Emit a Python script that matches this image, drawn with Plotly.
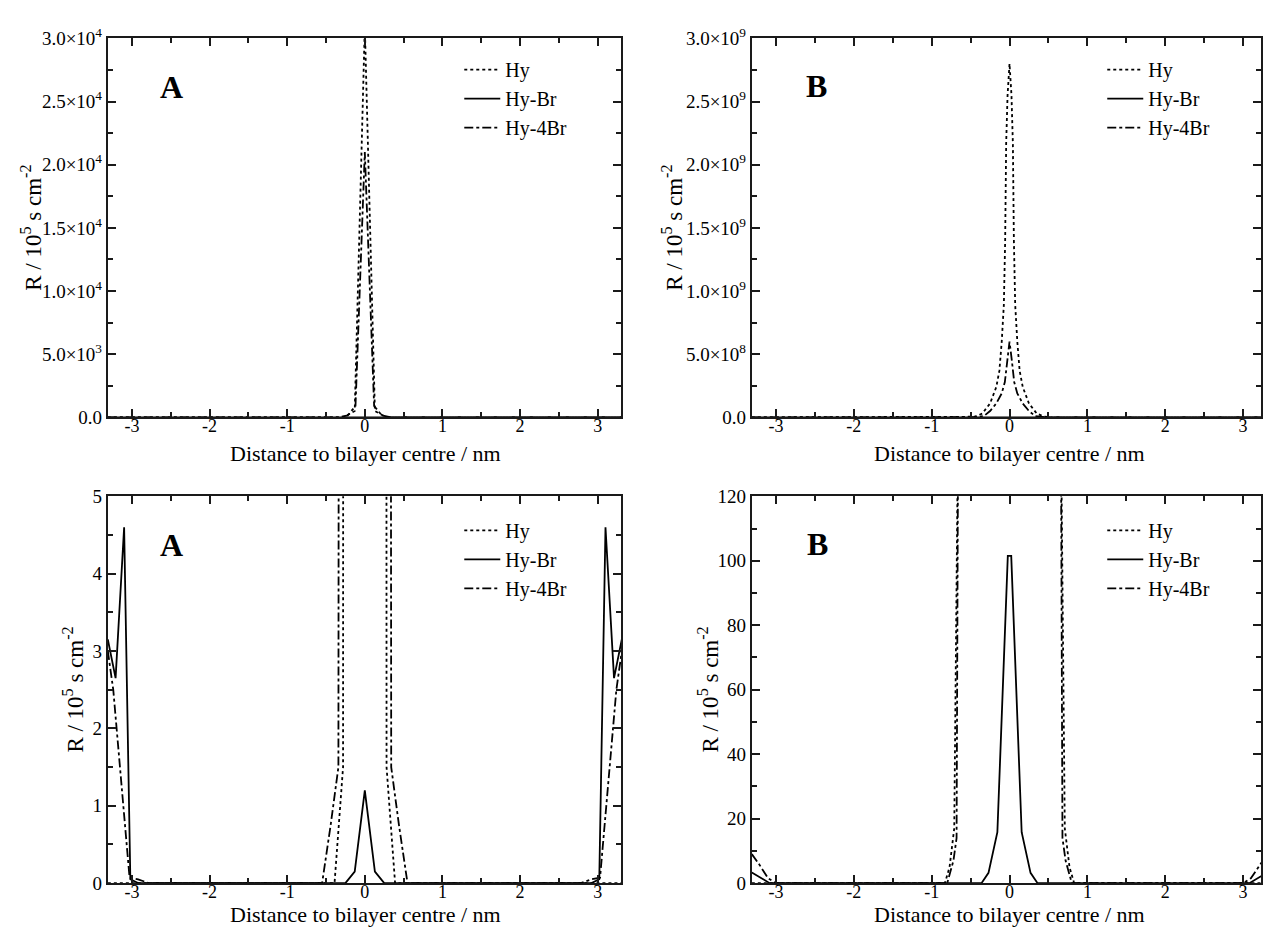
import plotly.graph_objects as go

FONT = "Liberation Serif"
W, H = 1263, 938
INK = "#1a1a1a"

series_names = ["Hy", "Hy-Br", "Hy-4Br"]

# ---- Data set A (R / 10^5 s cm^-2 against distance to bilayer centre / nm)
a_hy_x = [-3.31, -0.39, -0.28, -0.13, 0.0, 0.13, 0.28, 0.39, 3.31]
a_hy_y = [0, 0, 1.5, 500, 31000, 500, 1.5, 0, 0]

a_br_x = [-3.31, -3.21, -3.1, -3.02, -2.92, -0.25, -0.13, 0.0, 0.13, 0.25,
          2.92, 3.02, 3.1, 3.21, 3.31]
a_br_y = [3.15, 2.65, 4.6, 0.05, 0, 0, 0.15, 1.2, 0.15, 0,
          0, 0.05, 4.6, 2.65, 3.15]

a_4br_x = [-3.31, -3.24, -3.03, -2.92, -2.78, -0.55, -0.44, -0.34, -0.22, -0.12, 0.0,
           0.12, 0.22, 0.34, 0.44, 0.55, 2.78, 2.92, 3.03, 3.24, 3.31]
a_4br_y = [3.0, 2.5, 0.07, 0.05, 0, 0, 0.75, 1.5, 150, 900, 21000,
           900, 150, 1.5, 0.75, 0, 0, 0.05, 0.07, 2.5, 3.0]

# ---- Data set B
b_hy_x = [-3.31, -0.83, -0.77, -0.71, -0.63, -0.55, -0.45, -0.35, -0.25, -0.17, -0.13,
          -0.1, -0.073, -0.056, -0.043, -0.025, 0.0,
          0.025, 0.043, 0.056, 0.073, 0.1, 0.13, 0.17, 0.25, 0.35, 0.45, 0.55, 0.63,
          0.71, 0.77, 0.83, 3.31]
b_hy_y = [0, 0, 5, 17, 220, 8e3, 5e6, 3e7, 1.1e8, 2.4e8, 3.7e8,
          6.0e8, 8.9e8, 1.4e9, 2.17e9, 2.55e9, 2.8e9,
          2.55e9, 2.17e9, 1.4e9, 8.9e8, 6.0e8, 3.7e8, 2.4e8, 1.1e8, 3e7, 5e6, 8e3, 220,
          17, 5, 0, 0]

b_br_x = [-3.31, -3.08, -0.36, -0.27, -0.156, -0.022, 0.022, 0.156, 0.27, 0.36, 3.08, 3.31]
b_br_y = [3.3, 0, 0, 3.2, 15.8, 101.5, 101.5, 15.8, 3.2, 0, 0, 3.3]

b_4br_x = [-3.31, -3.22, -3.1, -3.0, -0.8, -0.72, -0.68, -0.62, -0.55, -0.45, -0.33,
           -0.25, -0.17, -0.1, -0.06, -0.03, 0.0,
           0.03, 0.06, 0.1, 0.17, 0.25, 0.33, 0.45, 0.55, 0.62, 0.68, 0.72, 0.8,
           3.0, 3.1, 3.22, 3.31]
b_4br_y = [9, 6, 1.5, 0, 0, 7, 14, 400, 2e4, 1e6, 1e7,
           5e7, 1.1e8, 1.9e8, 2.8e8, 4.5e8, 6.0e8,
           4.5e8, 2.8e8, 1.9e8, 1.1e8, 5e7, 1e7, 1e6, 2e4, 400, 14, 7, 0,
           0, 1.5, 6, 9]

# ---- Axis ticks
x_ticks = [-3, -2, -1, 0, 1, 2, 3]
x_ticktext = ["-3", "-2", "-1", "0", "1", "2", "3"]

ya_top_ticks = [0, 5000, 10000, 15000, 20000, 25000, 30000]
ya_top_text = ["0.0", "5.0×10<sup>3</sup>", "1.0×10<sup>4</sup>", "1.5×10<sup>4</sup>",
               "2.0×10<sup>4</sup>", "2.5×10<sup>4</sup>", "3.0×10<sup>4</sup>"]
yb_top_ticks = [0, 5e8, 1e9, 1.5e9, 2e9, 2.5e9, 3e9]
yb_top_text = ["0.0", "5.0×10<sup>8</sup>", "1.0×10<sup>9</sup>", "1.5×10<sup>9</sup>",
               "2.0×10<sup>9</sup>", "2.5×10<sup>9</sup>", "3.0×10<sup>9</sup>"]
ya_bot_ticks = [0, 1, 2, 3, 4, 5]
yb_bot_ticks = [0, 20, 40, 60, 80, 100, 120]

panel_letters = ["A", "B", "A", "B"]
x_title = "Distance to bilayer centre / nm"
y_title = "R / 10<sup>5</sup> s cm<sup>-2</sup>"

dashes = {"Hy": "dot", "Hy-Br": "solid", "Hy-4Br": "dashdot"}

data_A = {"Hy": (a_hy_x, a_hy_y), "Hy-Br": (a_br_x, a_br_y), "Hy-4Br": (a_4br_x, a_4br_y)}
data_B = {"Hy": (b_hy_x, b_hy_y), "Hy-Br": (b_br_x, b_br_y), "Hy-4Br": (b_4br_x, b_4br_y)}

# pixel geometry -> paper fractions (margins are zero)
def px(x):
    return x / W

def py(y):
    return 1 - y / H

x_dom_left = [px(108), px(622)]
x_dom_right = [px(753), 1.0]
y_dom_top = [py(415), py(26)]
y_dom_bot = [py(893), py(496)]

panels = [
    ("", data_A, x_dom_left, y_dom_top, [-3.31, 3.30], [0, 30000], ya_top_ticks, ya_top_text, 2500, "legend"),
    ("2", data_B, x_dom_right, y_dom_top, [-3.31, 3.23], [0, 3e9], yb_top_ticks, yb_top_text, 2.5e8, "legend2"),
    ("3", data_A, x_dom_left, y_dom_bot, [-3.31, 3.30], [0, 5], ya_bot_ticks, [str(v) for v in ya_bot_ticks], 0.5, "legend3"),
    ("4", data_B, x_dom_right, y_dom_bot, [-3.31, 3.23], [0, 120], yb_bot_ticks, [str(v) for v in yb_bot_ticks], 10, "legend4"),
]

fig = go.Figure()
layout = dict(
    width=W, height=H,
    margin=dict(l=0, r=0, t=0, b=0),
    paper_bgcolor="white", plot_bgcolor="white",
    font=dict(family=FONT, size=20, color="black"),
    annotations=[],
)

axis_common = dict(
    showline=True, linecolor=INK, linewidth=2, mirror="ticks",
    ticks="inside", ticklen=8, tickwidth=2, tickcolor=INK,
    showgrid=False, zeroline=False,
)

legend_pos = {"legend": (460, 38), "legend2": (1104, 38), "legend3": (460, 511), "legend4": (1104, 511)}
letter_pos = [(172, 76), (818, 75), (172, 546), (819, 545)]
ytitle_x = [32, 674, 74, 710]
xtitle_y = [452, 452, 925, 925]
x_zero_px = [365.6, 1011, 365.6, 1011]

for i, (suf, data, xdom, ydom, xr, yr, ytv, ytt, yminor, leg) in enumerate(panels):
    xa = "x" + suf
    ya = "y" + suf
    for name in series_names:
        xs, ys = data[name]
        fig.add_trace(go.Scatter(
            x=xs, y=ys, mode="lines", name=name,
            line=dict(color="black", width=1.8, dash=dashes[name]),
            xaxis=xa, yaxis=ya, legend=leg, showlegend=True,
        ))
    layout["xaxis" + suf] = dict(
        axis_common, domain=xdom, range=xr, anchor=ya,
        tickvals=x_ticks, ticktext=x_ticktext, ticklabelstandoff=-9,
        tickfont=dict(family=FONT, size=18, color="black"),
        minor=dict(ticks="inside", ticklen=5, tickwidth=1.5, tickcolor=INK, dtick=0.5, tick0=0),
    )
    layout["yaxis" + suf] = dict(
        axis_common, domain=ydom, range=yr, anchor=xa,
        tickvals=ytv, ticktext=ytt,
        tickfont=dict(family=FONT, size=19, color="black"),
        minor=dict(ticks="inside", ticklen=5, tickwidth=1.5, tickcolor=INK, dtick=yminor, tick0=0),
    )
    lx, ly = legend_pos[leg]
    layout[leg] = dict(
        x=px(lx), y=py(ly), xanchor="left", yanchor="top",
        xref="paper", yref="paper",
        bgcolor="rgba(0,0,0,0)", borderwidth=0,
        font=dict(family=FONT, size=20, color="black"),
        itemwidth=36, tracegroupgap=0,
    )
    lx_, ly_ = letter_pos[i]
    layout["annotations"].append(dict(
        text="<b>%s</b>" % panel_letters[i], x=px(lx_), y=py(ly_), xref="paper", yref="paper",
        xanchor="center", yanchor="middle", showarrow=False,
        font=dict(family=FONT, size=32, color="black"),
    ))
    layout["annotations"].append(dict(
        text=x_title, x=px(x_zero_px[i]), y=py(xtitle_y[i]), xref="paper", yref="paper",
        xanchor="center", yanchor="middle", showarrow=False,
        font=dict(family=FONT, size=22, color="black"),
    ))
    layout["annotations"].append(dict(
        text=y_title, x=px(ytitle_x[i]), y=(ydom[0] + ydom[1]) / 2, xref="paper", yref="paper",
        xanchor="center", yanchor="middle", showarrow=False, textangle=-90,
        font=dict(family=FONT, size=23, color="black"),
    ))

fig.update_layout(**layout)
fig.write_html("out.html")
